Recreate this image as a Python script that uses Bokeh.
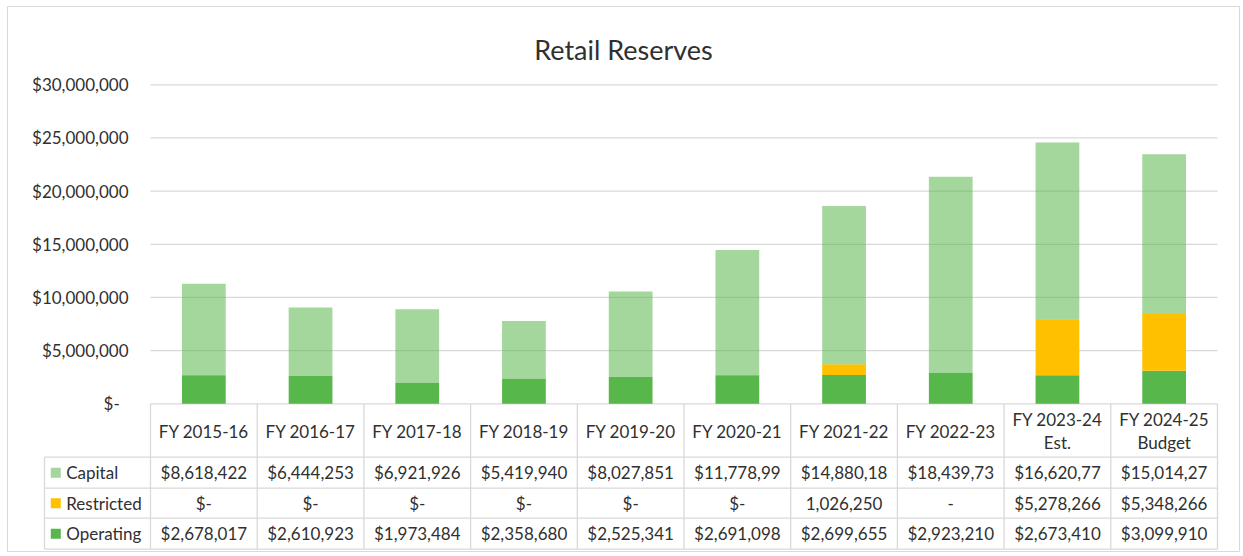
from bokeh.plotting import figure
from bokeh.models import (ColumnDataSource, Range1d, LinearAxis, FixedTicker,
                          CustomJSTickFormatter)
from bokeh.core.properties import value
from bokeh.embed import file_html
from bokeh.resources import INLINE

# ---------------- data ----------------
years = ["FY 2015-16", "FY 2016-17", "FY 2017-18", "FY 2018-19", "FY 2019-20",
         "FY 2020-21", "FY 2021-22", "FY 2022-23", "FY 2023-24\nEst.", "FY 2024-25\nBudget"]
capital = [8618422, 6444253, 6921926, 5419940, 8027851,
           11778990, 14880180, 18439730, 16620770, 15014270]
restricted = [0, 0, 0, 0, 0, 0, 1026250, 0, 5278266, 5348266]
operating = [2678017, 2610923, 1973484, 2358680, 2525341,
             2691098, 2699655, 2923210, 2673410, 3099910]
restricted_labels = ["$-", "$-", "$-", "$-", "$-", "$-", "1,026,250", "-", "$5,278,266", "$5,348,266"]
series_names = ["Capital", "Restricted", "Operating"]
y_ticks = [0, 5000000, 10000000, 15000000, 20000000, 25000000, 30000000]

# ---------------- styles ----------------
FONT = "Lato"
FS = "17px"
TXT = "#303030"
GRID = "#d9d9d9"
C_CAP = "#57B74A"
C_RES = "#FFC000"
C_OPR = "#57B74A"

FIG_W, FIG_H = 1241, 553
FX0, FX1 = 7, 1239                    # page x of the chart border
FY0, FY1 = 6, 551                     # page y of the chart border
COL_L, COL_R = 150.0, 1217.0          # page x of first/last column edge
Y0_PAGE, Y30_PAGE = 403.3, 84.3       # page y of $0 and $30M
unit = (COL_R - COL_L) / len(years)
per_px = 30000000 / (Y0_PAGE - Y30_PAGE)

x_range = Range1d((FX0 - COL_L) / unit, (FX1 - COL_L) / unit)
y_range = Range1d(-(FY1 - Y0_PAGE) * per_px, 30000000 + (Y30_PAGE - FY0) * per_px)

p = figure(width=FIG_W, height=FIG_H, x_range=x_range, y_range=y_range,
           x_axis_type=None, y_axis_type=None, output_backend="svg",
           toolbar_location=None,
           min_border_left=FX0, min_border_right=FIG_W - FX1,
           min_border_top=FY0, min_border_bottom=FIG_H - FY1)
p.extra_x_ranges = {"px": Range1d(FX0, FX1)}
p.extra_y_ranges = {"px": Range1d(FY1, FY0)}
p.outline_line_color = GRID
p.outline_line_width = 1
p.background_fill_color = "white"
p.border_fill_color = "white"

# y axis placed at the left edge of the bar area
yax = LinearAxis(fixed_location=0, ticker=FixedTicker(ticks=y_ticks))
yax.formatter = CustomJSTickFormatter(code="""
    if (tick == 0) { return "$-\\u00a0\\u00a0"; }
    return "$" + tick.toLocaleString("en-US");
""")
yax.axis_line_color = None
yax.major_tick_line_color = None
yax.minor_tick_line_color = None
yax.major_tick_out = 0
yax.major_tick_in = 0
yax.major_label_standoff = 22
yax.major_label_text_font = FONT
yax.major_label_text_font_size = FS
yax.major_label_text_color = TXT
p.add_layout(yax, "left")

# gridlines over the bar area
p.segment(x0=[0] * len(y_ticks), x1=[len(years)] * len(y_ticks), y0=y_ticks, y1=y_ticks,
          line_color=GRID, line_width=1.3)

# stacked bars
xs = [i + 0.5 for i in range(len(years))]
src = ColumnDataSource(dict(x=xs, operating=operating, restricted=restricted, capital=capital))
p.vbar_stack(["operating", "restricted", "capital"], x="x", width=0.41, source=src,
             fill_color=[C_OPR, C_RES, C_CAP], fill_alpha=[1.0, 1.0, 0.55],
             line_color=None)

# title
p.text(x=[(FX0 + FX1) / 2], y=[49.3], text=["Retail Reserves"],
       x_range_name="px", y_range_name="px", text_font=value(FONT),
       text_font_size="27px", text_color=TXT, text_align="center",
       text_baseline="alphabetic")

# ---------------- data table ----------------
T_TOP, T_HDR, T_R1, T_R2, T_R3 = Y0_PAGE, 456.7, 487.7, 517.7, 548.7
LEG_L = 44.0
edges = [COL_L + i * unit for i in range(len(years) + 1)]
# horizontal lines
p.segment(x0=[LEG_L] * 4, x1=[COL_R] * 4, y0=[T_HDR, T_R1, T_R2, T_R3],
          y1=[T_HDR, T_R1, T_R2, T_R3], x_range_name="px", y_range_name="px",
          line_color=GRID, line_width=1.3)
# vertical lines
p.segment(x0=edges, x1=edges, y0=[T_TOP] * len(edges), y1=[T_R3] * len(edges),
          x_range_name="px", y_range_name="px", line_color=GRID, line_width=1.3)
p.segment(x0=[LEG_L], x1=[LEG_L], y0=[T_HDR], y1=[T_R3],
          x_range_name="px", y_range_name="px", line_color=GRID, line_width=1.3)

# header texts
p.text(x=xs, y=[(T_TOP + T_HDR) / 2 + 0.5] * len(xs), text=years,
       y_range_name="px", text_font=value(FONT), text_font_size=FS,
       text_color=TXT, text_align="center", text_baseline="middle",
       text_line_height=1.12)

row_centers = [(T_HDR + T_R1) / 2, (T_R1 + T_R2) / 2, (T_R2 + T_R3) / 2]
cap_labels = [("${:,.0f}".format(v))[:10] for v in capital]
opr_labels = ["${:,.0f}".format(v) for v in operating]
for labels, yc in zip([cap_labels, restricted_labels, opr_labels], row_centers):
    p.text(x=xs, y=[yc] * len(xs), text=labels, y_range_name="px",
           text_font=value(FONT), text_font_size=FS, text_color=TXT,
           text_align="center", text_baseline="middle")

# legend keys in the table
p.rect(x=[55.3] * 3, y=row_centers, width=10, height=10,
       fill_color=[C_CAP, C_RES, C_OPR], fill_alpha=[0.55, 1.0, 1.0], line_color=None,
       x_range_name="px", y_range_name="px")
p.text(x=[65.7] * 3, y=row_centers, text=series_names, x_range_name="px",
       y_range_name="px", text_font=value(FONT), text_font_size=FS,
       text_color=TXT, text_align="left", text_baseline="middle")

open("out.html", "w").write(file_html(p, INLINE))
